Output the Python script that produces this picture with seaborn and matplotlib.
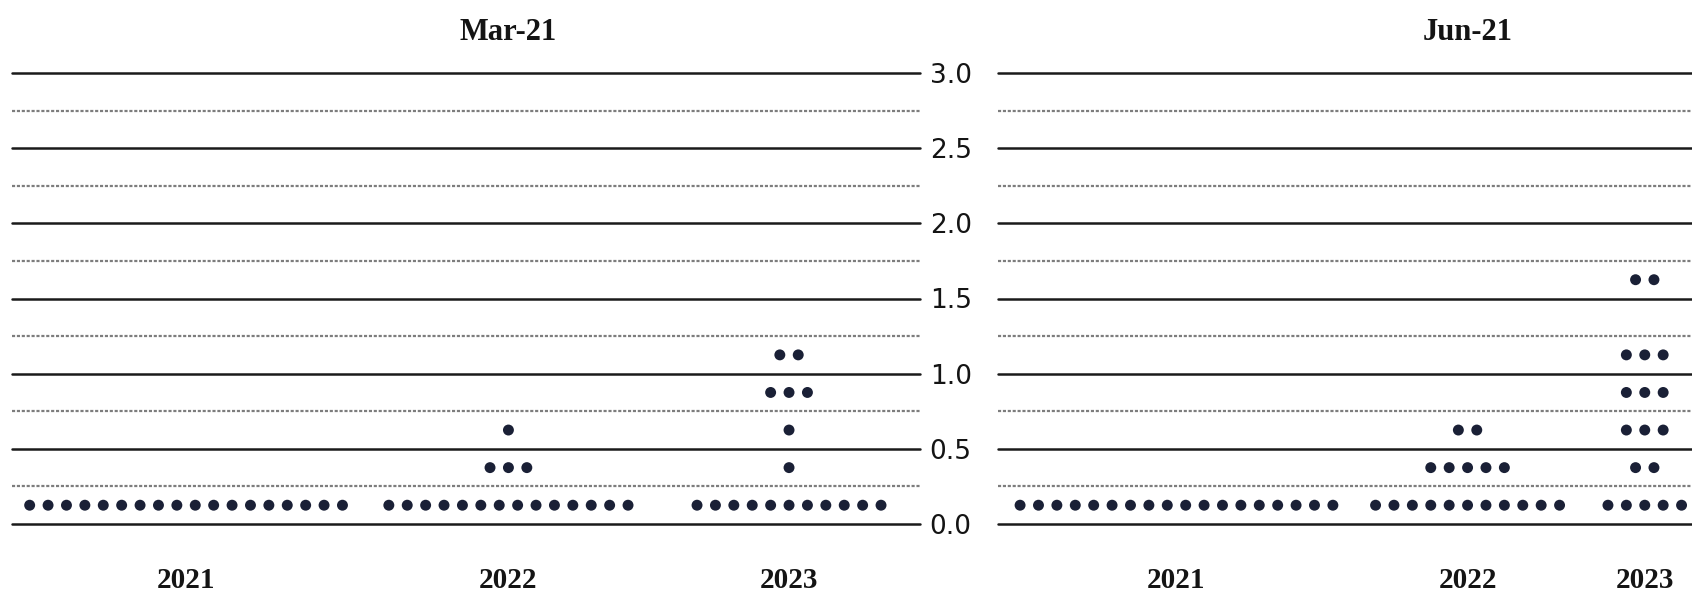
import numpy as np
import pandas as pd
import matplotlib
matplotlib.use("Agg")
import matplotlib.pyplot as plt
import seaborn as sns
from matplotlib.transforms import blended_transform_factory

# ---- data: FOMC participants' projections of the appropriate policy rate ----
YEARS = ["2021", "2022", "2023"]
RATE_LEVELS = [0.125, 0.375, 0.625, 0.875, 1.125, 1.375, 1.625]
PANEL_TITLES = ["Mar-21", "Jun-21"]

# number of participants at each rate level (same order as RATE_LEVELS)
MAR21_2021 = [18, 0, 0, 0, 0, 0, 0]
MAR21_2022 = [14, 3, 1, 0, 0, 0, 0]
MAR21_2023 = [11, 1, 1, 3, 2, 0, 0]
JUN21_2021 = [18, 0, 0, 0, 0, 0, 0]
JUN21_2022 = [11, 5, 2, 0, 0, 0, 0]
JUN21_2023 = [5, 2, 3, 3, 3, 0, 2]

Y_TICKS = [0.0, 0.5, 1.0, 1.5, 2.0, 2.5, 3.0]
Y_TICK_LABELS = ["0.0", "0.5", "1.0", "1.5", "2.0", "2.5", "3.0"]

PANEL_COUNTS = [
    [MAR21_2021, MAR21_2022, MAR21_2023],
    [JUN21_2021, JUN21_2022, JUN21_2023],
]

# ---- layout ----
FIG_W_PX, FIG_H_PX = 1692, 594
PANEL_LEFT_PX = [12, 998]
PANEL_WIDTH_PX = 908
PANEL_TOP_PX, PANEL_BOTTOM_PX = 73, 524
DOT_STEP_PX = 18.4                       # horizontal spacing of neighbouring dots
X_SPAN = PANEL_WIDTH_PX / DOT_STEP_PX    # panel width in dot slots
# centre of each year's column, in dot slots from the panel's left edge
COLUMN_CENTERS = [[9.46, 26.98, 42.23], [9.70, 25.52, 35.15]]

DOT_COLOR = "#1a2036"
TEXT_COLOR = "#141414"
SERIF = ["Liberation Serif", "DejaVu Serif"]

sns.set_theme(style="white")
plt.rcParams["font.family"] = ["DejaVu Sans"]

# one row per dot, spread symmetrically around its year's column centre
records = []
for title, counts_by_year, centers in zip(PANEL_TITLES, PANEL_COUNTS, COLUMN_CENTERS):
    for year, counts, center in zip(YEARS, counts_by_year, centers):
        for rate, n in zip(RATE_LEVELS, counts):
            for i in range(n):
                records.append({"panel": title, "year": year, "rate": rate,
                                "slot": center + i - (n - 1) / 2})
dots = pd.DataFrame(records)

fig = plt.figure(figsize=(FIG_W_PX / 100, FIG_H_PX / 100), dpi=100)
bottom = (FIG_H_PX - PANEL_BOTTOM_PX) / FIG_H_PX
height = (PANEL_BOTTOM_PX - PANEL_TOP_PX) / FIG_H_PX

for k, (title, centers) in enumerate(zip(PANEL_TITLES, COLUMN_CENTERS)):
    ax = fig.add_axes([PANEL_LEFT_PX[k] / FIG_W_PX, bottom,
                       PANEL_WIDTH_PX / FIG_W_PX, height])
    ax.set_xlim(0, X_SPAN)
    ax.set_ylim(0, 3)

    # solid rules at every half point, fine dashed rules in between
    for v in np.arange(0, 3.01, 0.5):
        ax.axhline(v, color="#1a1a1a", lw=1.8, clip_on=False, zorder=1)
    for v in np.arange(0.25, 3.0, 0.5):
        ax.axhline(v, color="#7d7d7d", lw=1.6, ls=(0, (1.4, 0.8)),
                   clip_on=False, zorder=1)

    sns.scatterplot(data=dots[dots["panel"] == title], x="slot", y="rate",
                    ax=ax, color=DOT_COLOR, s=62, marker="o",
                    edgecolor="none", legend=False, zorder=3)

    for s in ax.spines.values():
        s.set_visible(False)
    ax.set_xlabel("")
    ax.set_ylabel("")
    ax.set_xticks([])
    if k == 0:
        ax.yaxis.tick_right()
        ax.set_yticks(Y_TICKS)
        ax.set_yticklabels(Y_TICK_LABELS)
        ax.tick_params(axis="y", length=0, pad=7, labelsize=19,
                       labelcolor=TEXT_COLOR)
    else:
        ax.set_yticks([])

    # year labels under each column
    xt = blended_transform_factory(ax.transData, fig.transFigure)
    for year, c in zip(YEARS, centers):
        ax.text(c, 1 - 581 / FIG_H_PX, year, transform=xt, ha="center",
                va="center", family=SERIF, fontweight="bold", fontsize=21,
                color=TEXT_COLOR)
    # panel title over the middle column
    ax.text(centers[1], 1 - 32 / FIG_H_PX, title, transform=xt, ha="center",
            va="center", family=SERIF, fontweight="bold", fontsize=22,
            color=TEXT_COLOR)

fig.savefig("out.png", dpi=100)
